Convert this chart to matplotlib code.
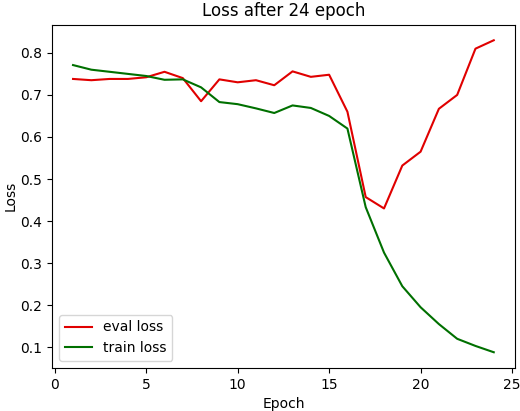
import matplotlib
matplotlib.use("Agg")
import matplotlib.pyplot as plt

epochs = list(range(1, 25))
eval_loss = [0.738, 0.735, 0.738, 0.738, 0.742, 0.755, 0.740, 0.685, 0.737, 0.730,
             0.735, 0.723, 0.756, 0.743, 0.748, 0.660, 0.457, 0.430, 0.532, 0.565,
             0.667, 0.700, 0.810, 0.830]
train_loss = [0.771, 0.760, 0.755, 0.750, 0.745, 0.736, 0.737, 0.718, 0.683, 0.678,
              0.668, 0.657, 0.675, 0.669, 0.650, 0.620, 0.433, 0.325, 0.245, 0.195,
              0.155, 0.120, 0.103, 0.088]

fig, ax = plt.subplots(figsize=(5.2, 4.11), dpi=100)
ax.plot(epochs, eval_loss, color="#e00000", label="eval loss")
ax.plot(epochs, train_loss, color="#007000", label="train loss")
ax.set_title("Loss after 24 epoch")
ax.set_xlabel("Epoch")
ax.set_ylabel("Loss", labelpad=2)
ax.set_xticks([0, 5, 10, 15, 20, 25])
ax.legend(loc="lower left")
fig.subplots_adjust(left=0.1, right=0.99, top=0.94, bottom=0.105)
fig.savefig("out.png")
